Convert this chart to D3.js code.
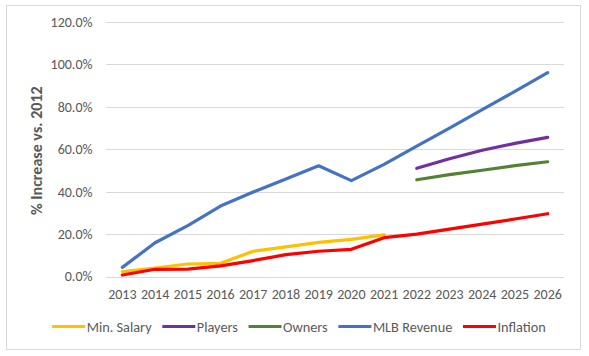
<!DOCTYPE html>
<html><head><meta charset="utf-8">
<script src="https://cdn.jsdelivr.net/npm/d3@7"></script>
<style>body{margin:0;background:#fff;} text{font-family:Carlito,Calibri,"Liberation Sans",Arial,sans-serif;}</style>
</head><body><svg id="c" width="589" height="356"></svg>
<script>
const years = ["2013","2014","2015","2016","2017","2018","2019","2020","2021","2022","2023","2024","2025","2026"];
const yTicks = [0,20,40,60,80,100,120];
const minSalary = [2.3,4.0,5.9,6.2,11.9,14.0,16.1,17.5,19.6,null,null,null,null,null];
const players   = [null,null,null,null,null,null,null,null,null,51.0,55.5,59.5,62.8,65.6];
const owners    = [null,null,null,null,null,null,null,null,null,45.6,48.0,50.1,52.3,54.1];
const mlbRevenue= [4.3,15.9,24.0,33.2,39.8,46.0,52.2,45.2,52.9,61.5,70.0,78.7,87.3,96.1];
const inflation = [0.7,3.4,3.5,5.0,7.5,10.3,11.9,12.8,18.3,20.0,22.3,24.7,27.1,29.6];
const seriesNames = ["Min. Salary","Players","Owners","MLB Revenue","Inflation"];
const seriesColors = ["#FFC000","#7030A0","#548235","#4472C4","#FF0000"];
const seriesValues = [minSalary,players,owners,mlbRevenue,inflation];

const svg = d3.select("#c");
svg.append("rect").attr("x",6.5).attr("y",5.5).attr("width",574).attr("height",344)
  .attr("fill","#fff").attr("stroke","#d9d9d9").attr("stroke-width",1);

const L=106, R=564, T=22, B=276.5;
const x = d3.scaleBand().domain(years).range([L,R]);
const y = d3.scaleLinear().domain([0,120]).range([B,T]);

svg.append("g").selectAll("line").data(yTicks).join("line")
  .attr("x1",L).attr("x2",R)
  .attr("y1",d=>Math.round(y(d))+0.5).attr("y2",d=>Math.round(y(d))+0.5)
  .attr("stroke","#d9d9d9").attr("stroke-width",1);

const yAxis = d3.axisLeft(y).tickValues(yTicks).tickFormat(d=>d.toFixed(1)+"%").tickSize(0).tickPadding(0);
const gy = svg.append("g").attr("transform",`translate(${L-13.5},0)`).call(yAxis);
gy.select(".domain").remove();
gy.selectAll("text").attr("fill","#595959").style("font-size","14px");

const xAxis = d3.axisBottom(x).tickSize(0).tickPadding(0);
const gx = svg.append("g").attr("transform",`translate(0,${B+13})`).call(xAxis);
gx.select(".domain").remove();
gx.selectAll("text").attr("fill","#595959").style("font-size","14px");

svg.append("text").attr("transform","translate(42.3,150.7) rotate(-90)")
  .attr("text-anchor","middle").attr("fill","#595959")
  .style("font-size","16px").style("font-weight","bold").text("% Increase vs. 2012");

const line = d3.line().defined(d=>d.v!=null)
  .x(d=>x(d.yr)+x.bandwidth()/2).y(d=>y(d.v));
seriesValues.forEach((vals,i)=>{
  const pts = years.map((yr,j)=>({yr, v: vals[j]}));
  svg.append("path").datum(pts).attr("d",line).attr("fill","none")
    .attr("stroke",seriesColors[i]).attr("stroke-width",3.2)
    .attr("stroke-linejoin","round").attr("stroke-linecap","round");
});

const lg = svg.append("g");
let cx = 0;
seriesNames.forEach((n,i)=>{
  const g = lg.append("g");
  g.append("line").attr("x1",0).attr("x2",33).attr("y1",0).attr("y2",0)
    .attr("stroke",seriesColors[i]).attr("stroke-width",3.2);
  const t = g.append("text").attr("x",34.5).attr("y",5).attr("fill","#595959")
    .style("font-size","14.3px").text(n);
  const w = 34.5 + t.node().getComputedTextLength();
  g.attr("transform",`translate(${cx},0)`);
  cx += w + 10.7;
});
const totalW = cx - 10.7;
lg.attr("transform",`translate(${299 - totalW/2},326.5)`);
</script></body></html>
